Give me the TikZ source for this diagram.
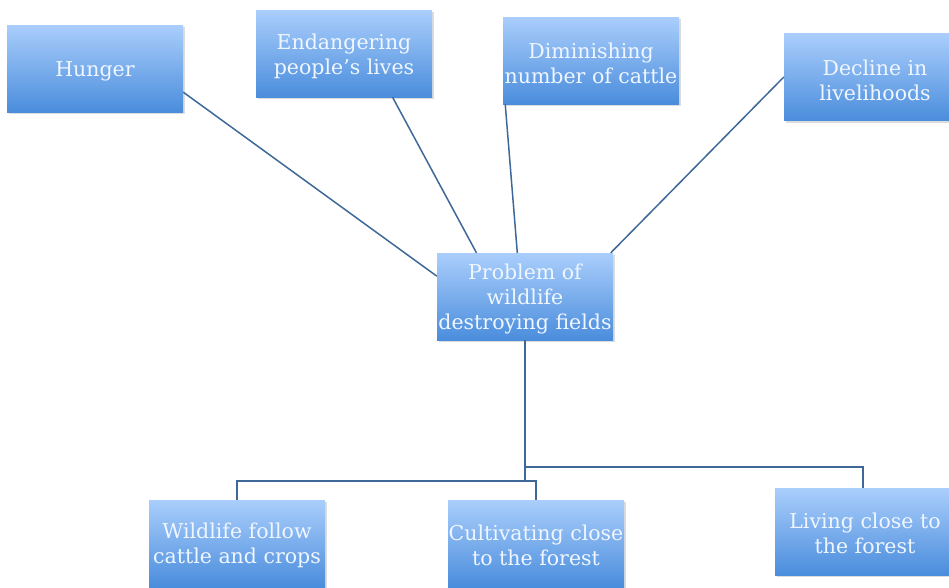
\documentclass[tikz,border=0pt]{standalone}
\usepackage{fontspec}
\setmainfont{DejaVu Serif}
\usetikzlibrary{shadows}
\definecolor{boxtop}{RGB}{170,206,252}
\definecolor{boxbot}{RGB}{74,141,220}
\definecolor{boxtext}{RGB}{240,246,255}
\definecolor{linkcol}{RGB}{62,104,152}
\tikzset{
  topic/.style={rectangle, minimum width=176pt, minimum height=87pt,
    inner sep=2pt, align=center, top color=boxtop, bottom color=boxbot,
    text=boxtext, font=\fontsize{20.5}{25}\selectfont,
    drop shadow={shadow xshift=1.5pt, shadow yshift=-2pt, fill=gray!60, opacity=0.45}},
  caption/.style={align=center, text=boxtext, font=\fontsize{20.5}{25}\selectfont, inner sep=0pt},
  link/.style={draw=linkcol, line width=1.5pt}
}
\begin{document}
\begin{tikzpicture}[x=1pt, y=-1pt]
\useasboundingbox (0,0) rectangle (949,587);
% effects (top row)
\node[topic] (hunger)  at (95,68.5)  {};
\node[topic] (endanger) at (344,53.5) {};
\node[topic] (dimin)   at (591,60.5) {};
\node[topic] (decline) at (872,77)   {};
% core problem
\node[topic] (problem) at (525,296.5) {};
% causes (bottom row)
\node[topic] (wild)    at (237,543.5) {};
\node[topic] (cult)    at (536,543.5) {};
\node[topic] (living)  at (863,531.5) {};
% box captions, set a little below centre
\node[caption] (thunger)   at ([yshift=-3pt]hunger.center)   {Hunger};
\node[caption] (tendanger) at ([yshift=-3pt]endanger.center) {Endangering\\people's lives};
\node[caption] (tdimin)    at ([yshift=-3pt]dimin.center)    {Diminishing\\number of cattle};
\node[caption] (tdecline)  at ([yshift=-3pt,xshift=3pt]decline.center)  {Decline in\\livelihoods};
\node[caption] (tproblem)  at ([yshift=-2pt]problem.center)  {Problem of\\wildlife\\destroying fields};
\node[caption] (twild)     at ([yshift=-2pt]wild.center)     {Wildlife follow\\cattle and crops};
\node[caption] (tcult)     at ([yshift=-2pt]cult.center)     {Cultivating close\\to the forest};
\node[caption] (tliving)   at ([yshift=-2pt,xshift=2pt]living.center)   {Living close to\\the forest};
% branch points below the problem
\coordinate (j1) at (525,481);
\coordinate (j2) at (525,467);
% connectors
\draw[link] (hunger.-15) -- (problem.167);
\draw[link] (endanger.-42) -- (problem.138);
\draw[link] (dimin.207) -- (problem.100);
\draw[link] (decline.west) -- (problem.27);
\draw[link] (problem.south) -- (j1) -| (wild.north);
\draw[link] (j1) -| (cult.north);
\draw[link] (j2) -| (living.north);
\end{tikzpicture}
\end{document}
